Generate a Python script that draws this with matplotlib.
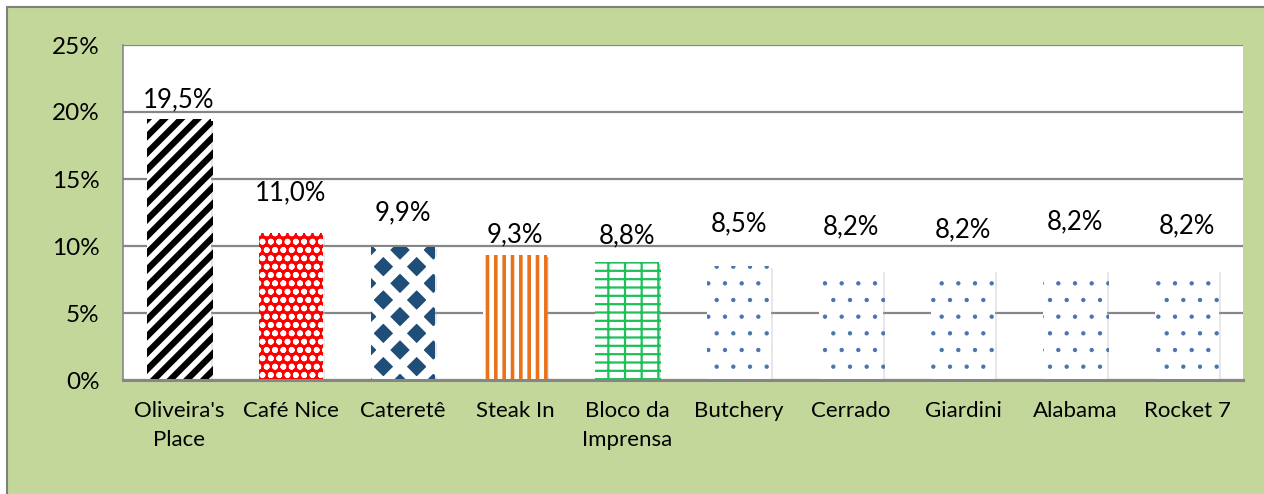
import numpy as np
import matplotlib
matplotlib.use("Agg")
import matplotlib.pyplot as plt
import matplotlib.patheffects as pe
from matplotlib.patches import Rectangle
from matplotlib.ticker import FuncFormatter

# data
restaurants = ["Oliveira's\nPlace", "Café Nice", "Cateretê", "Steak In", "Bloco da\nImprensa",
               "Butchery", "Cerrado", "Giardini", "Alabama", "Rocket 7"]
shares = [19.5, 11.0, 9.9, 9.3, 8.8, 8.5, 8.2, 8.2, 8.2, 8.2]
value_labels = ["19,5%", "11,0%", "9,9%", "9,3%", "8,8%", "8,5%", "8,2%", "8,2%", "8,2%", "8,2%"]
y_ticks = [0, 5, 10, 15, 20, 25]

# styling (label offsets in px, as placed in the original)
label_offsets = [19, 40, 35, 21, 26, 42, 43, 40, 48, 44]
dots = dict(face="white", hatch=".", color="#4a74b0", lw=0.7)
styles = [
    dict(face="white", hatch="//", color="black", lw=4.5),
    dict(face="#ff0000", hatch="oo", color="white", lw=1.8),
    dict(face="#1f4e79", hatch="x", color="white", lw=7.0),
    dict(face="white", hatch="||", color="#e8731a", lw=2.6),
    dict(face="white", hatch="+-", color="#1fbf5a", lw=1.6),
    dots, dots, dots, dots, dots,
]

plt.rcParams["font.family"] = ["Lato", "DejaVu Sans"]

W, H = 1264, 494
fig = plt.figure(figsize=(W / 100, H / 100), dpi=100)
fig.patch.set_facecolor("white")

# green chart frame
fig.add_artist(Rectangle((7 / W, -0.05), 1.1, 1 - 7 / H + 0.05, transform=fig.transFigure,
                         facecolor="#c4d79b", edgecolor="#7f7f7f", linewidth=1.5, zorder=0))

ax = fig.add_axes([123 / W, 1 - 380 / H, 1120 / W, 335 / H])
ax.set_facecolor("white")

x = np.arange(len(restaurants))
for i, (v, st) in enumerate(zip(shares, styles)):
    with plt.rc_context({"hatch.linewidth": st["lw"], "hatch.color": st["color"]}):
        b = ax.bar(x[i], v, width=0.57, color=st["face"], edgecolor=st["color"],
                   linewidth=0, hatch=st["hatch"], zorder=3)
    for p in b:
        p.set_path_effects([pe.SimplePatchShadow(offset=(1.5, -1.5), shadow_rgbFace="#b0b0b0", alpha=0.3),
                            pe.Normal()])
    ax.annotate(value_labels[i], (x[i], v), xytext=(0, label_offsets[i] * 0.72),
                textcoords="offset points", ha="center", va="center", fontsize=18.5, color="black",
                zorder=4)

ax.set_xlim(-0.5, len(restaurants) - 0.5)
ax.set_ylim(0, 25)
ax.set_yticks(y_ticks)
ax.yaxis.set_major_formatter(FuncFormatter(lambda v, _: f"{v:.0f}%"))
ax.set_xticks(x)
ax.set_xticklabels(restaurants, fontsize=16, linespacing=1.6, va="top")
ax.tick_params(axis="y", labelsize=17.5, length=0, pad=17)
ax.tick_params(axis="x", length=0, pad=15)
ax.grid(axis="y", color="#868686", linewidth=1.6, zorder=1)
ax.set_axisbelow(True)

for s in ["top", "right"]:
    ax.spines[s].set_visible(False)
ax.spines["left"].set_color("#868686")
ax.spines["left"].set_linewidth(1.2)
ax.spines["bottom"].set_color("#868686")
ax.spines["bottom"].set_linewidth(2.2)
ax.spines["bottom"].set_zorder(5)

fig.savefig("out.png", dpi=100, facecolor=fig.get_facecolor())
